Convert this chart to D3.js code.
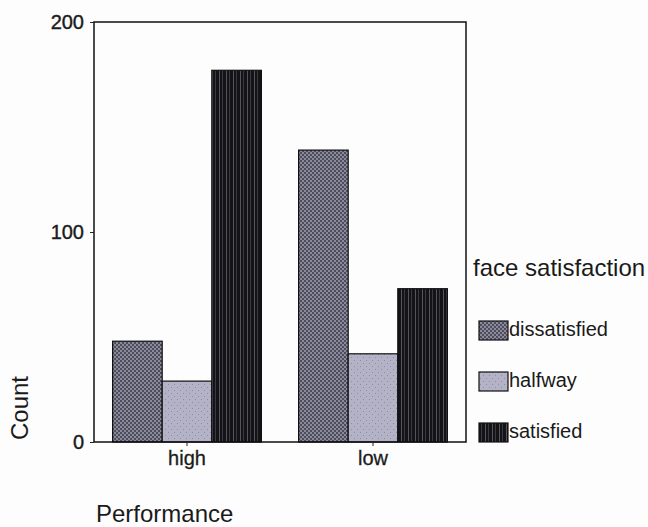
<!DOCTYPE html>
<html><head><meta charset="utf-8">
<script src="https://cdn.jsdelivr.net/npm/d3@7"></script>
<style>body{margin:0;background:#fdfdfd;}svg{display:block;}text{font-family:"Liberation Sans",Arial,sans-serif;fill:#1a1a1a;}</style>
</head><body>
<script>
const categories = ["high", "low"];
const series = ["dissatisfied", "halfway", "satisfied"];
const dissatisfied = [48, 139];
const halfway = [29, 42];
const satisfied = [177, 73];
const yTicks = [0, 100, 200];
const valuesBySeries = {dissatisfied, halfway, satisfied};

const W = 648, H = 527;
const svg = d3.select("body").append("svg").attr("width", W).attr("height", H);
const defs = svg.append("defs");

// patterns
const p1 = defs.append("pattern").attr("id","pat-dissatisfied").attr("patternUnits","userSpaceOnUse").attr("width",4).attr("height",4);
p1.append("rect").attr("width",4).attr("height",4).attr("fill","#8a8a9a");
p1.append("rect").attr("x",0).attr("y",0).attr("width",2).attr("height",2).attr("fill","#4c4c5c");
p1.append("rect").attr("x",2).attr("y",2).attr("width",2).attr("height",2).attr("fill","#4c4c5c");

const p2 = defs.append("pattern").attr("id","pat-halfway").attr("patternUnits","userSpaceOnUse").attr("width",6).attr("height",6);
p2.append("rect").attr("width",6).attr("height",6).attr("fill","#b4b2c6");
p2.append("rect").attr("x",0).attr("y",0).attr("width",1).attr("height",1).attr("fill","#8e8ca0");
p2.append("rect").attr("x",3).attr("y",3).attr("width",1).attr("height",1).attr("fill","#8e8ca0");

const p3 = defs.append("pattern").attr("id","pat-satisfied").attr("patternUnits","userSpaceOnUse").attr("width",7).attr("height",40);
p3.append("rect").attr("width",7).attr("height",40).attr("fill","#141418");
p3.append("rect").attr("x",2).attr("y",0).attr("width",1).attr("height",40).attr("fill","#55555c");
p3.append("rect").attr("x",5).attr("y",0).attr("width",1).attr("height",40).attr("fill","#3a3a40");

const fills = {dissatisfied:"url(#pat-dissatisfied)", halfway:"url(#pat-halfway)", satisfied:"url(#pat-satisfied)"};

const pLeft = 94, pRight = 466, pTop = 22, pBottom = 442;
const x = d3.scaleBand().domain(categories).range([pLeft, pRight]).paddingInner(0.2).paddingOuter(0.1);
const xs = d3.scaleBand().domain(series).range([0, x.bandwidth()]);
const y = d3.scaleLinear().domain([0, 200]).range([pBottom, pTop]);

// bars
categories.forEach((c, ci) => {
  series.forEach(s => {
    const v = valuesBySeries[s][ci];
    svg.append("rect")
      .attr("x", x(c) + xs(s)).attr("y", y(v))
      .attr("width", xs.bandwidth()).attr("height", y(0) - y(v))
      .attr("fill", fills[s]).attr("stroke", "#111").attr("stroke-width", 1.2);
  });
});

// frame
svg.append("rect").attr("x", pLeft).attr("y", pTop).attr("width", pRight - pLeft).attr("height", pBottom - pTop)
  .attr("fill", "none").attr("stroke", "#111").attr("stroke-width", 1.5);

// y axis
const yAxis = svg.append("g").attr("transform", `translate(${pLeft},0)`)
  .call(d3.axisLeft(y).tickValues(yTicks).tickSize(4).tickPadding(6).tickFormat(d3.format("d")));
yAxis.select(".domain").remove();
yAxis.selectAll("text").style("font-size", "20px").attr("fill", "#222")
  .attr("stroke", "#222").attr("stroke-width", 0.4);
yAxis.selectAll("line").attr("stroke", "#222");

// x axis
const xAxis = svg.append("g").attr("transform", `translate(0,${pBottom})`)
  .call(d3.axisBottom(x).tickSize(4).tickPadding(5));
xAxis.select(".domain").remove();
xAxis.selectAll("text").style("font-size", "20px").attr("fill", "#222")
  .attr("stroke", "#222").attr("stroke-width", 0.3);
xAxis.selectAll("line").attr("stroke", "#222");

// axis titles
svg.append("text").attr("transform", "translate(28,408) rotate(-90)").attr("text-anchor", "middle")
  .style("font-size", "24px").text("Count");
svg.append("text").attr("x", 96).attr("y", 522).style("font-size", "24px").text("Performance");

// legend
svg.append("text").attr("x", 473).attr("y", 276).style("font-size", "24px").text("face satisfaction");
const lg = svg.append("g");
series.forEach((s, i) => {
  const yy = 321 + i * 51;
  lg.append("rect").attr("x", 479).attr("y", yy).attr("width", 29).attr("height", 19)
    .attr("fill", fills[s]).attr("stroke", "#111").attr("stroke-width", 1.2);
  lg.append("text").attr("x", 509).attr("y", yy + 15).style("font-size", "20px").text(s);
});
</script>
</body></html>
